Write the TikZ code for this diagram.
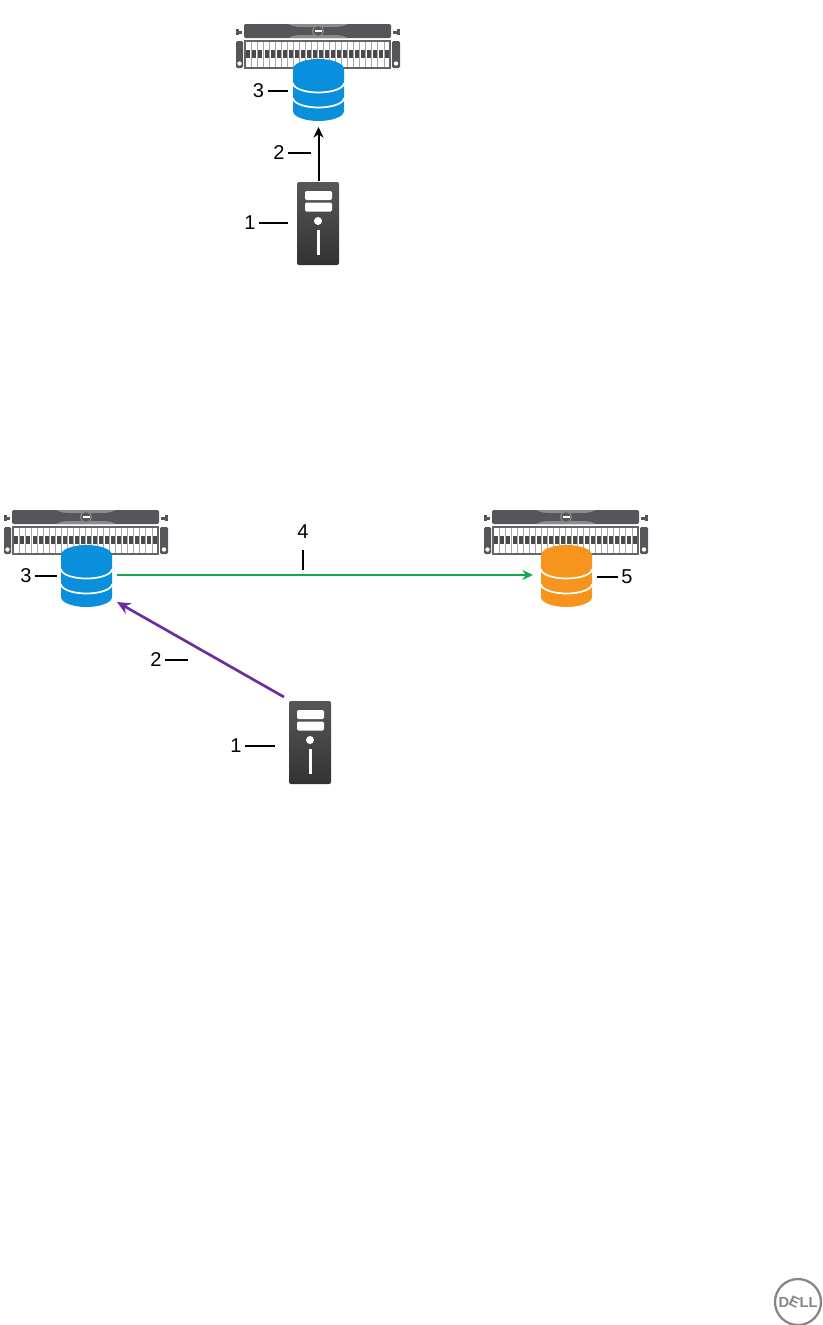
\documentclass[tikz,border=0pt]{standalone}
\usepackage{fontspec}
\setmainfont{Liberation Sans}
\usepackage{graphicx}
\definecolor{blueDisk}{HTML}{0A8FDC}
\definecolor{orangeDisk}{HTML}{F7941D}
\definecolor{bezel}{HTML}{55565A}
\definecolor{bezelLight}{HTML}{8A8B8E}
\definecolor{cellLine}{HTML}{A8A8A8}
\definecolor{cellDark}{HTML}{4A4A4C}
\definecolor{greenLine}{HTML}{12A84B}
\definecolor{purpleLine}{HTML}{6A2C9E}
\definecolor{logoGrey}{HTML}{85868A}
\usetikzlibrary{arrows.meta}
\tikzset{
  x=0.75pt,y=-0.75pt,
  numlabel/.style={font=\fontsize{15}{15}\selectfont,text=black,inner sep=2.5pt},
  leaderline/.style={draw=black,line width=1pt},
  flowarrow/.style={-{Stealth[length=8pt,width=7.5pt]},line width=1.5pt},
}
% disk: name, centre x, top y, colour
\newcommand{\drawdisk}[4]{%
  \node[inner sep=0pt,outer sep=0pt,minimum width=38.25pt,minimum height=46.5pt] (#1) at (#2,#3+31) {};
  \begin{scope}[shift={(#2,#3)}]
    \fill[#4] (-25.5,10) arc[start angle=180,end angle=360,x radius=25.5,y radius=10]
      -- (25.5,52) arc[start angle=0,end angle=180,x radius=25.5,y radius=10] -- cycle;
    \draw[white,line width=1.3pt] (-25.5,24) arc[start angle=180,end angle=0,x radius=25.5,y radius=9.5];
    \draw[white,line width=1.3pt] (-25.5,39) arc[start angle=180,end angle=0,x radius=25.5,y radius=9.5];
  \end{scope}}
% storage array: name, centre x, top y
\newcommand{\drawarray}[3]{%
  \node[inner sep=0pt,outer sep=0pt,minimum width=123pt,minimum height=33pt] (#1) at (#2,#3+22) {};
  \begin{scope}[shift={(#2,#3)}]
    \fill[bezel,rounded corners=1pt] (-74,0) rectangle (73,14);
    \fill[bezelLight] (-30,0) .. controls (-24,3) and (-20,3) .. (-14,3) -- (14,3) .. controls (20,3) and (24,3) .. (30,0) -- cycle;
    \fill[bezelLight] (-30,14) .. controls (-24,11) and (-20,11) .. (-14,11) -- (14,11) .. controls (20,11) and (24,11) .. (30,14) -- cycle;
    \filldraw[fill=bezel,draw=bezelLight,line width=0.9pt] (0,7) circle[radius=5.5];
    \fill[white] (-3.5,6.2) rectangle (3.5,7.8);
    % handles
    \fill[bezel] (-82,5) rectangle (-79,11);
    \fill[bezel] (-79,7) rectangle (-76,9.5);
    \fill[bezel] (79,5) rectangle (82,11);
    \fill[bezel] (75,7) rectangle (79,9.5);
    % ears
    \fill[bezel,rounded corners=1pt] (-82,17) rectangle (-75,44);
    \fill[bezel,rounded corners=1pt] (74,17) rectangle (82,44);
    \fill[white] (-78.5,39.5) circle[radius=2.2];
    \fill[white] (78,39.5) circle[radius=2.2];
    % drive slots
    \fill[white] (-73,17) rectangle (72,44);
    \foreach \k in {0,...,23}{
      \draw[cellLine,line width=0.6pt] ({-73+\k*6.04},17) -- ({-73+\k*6.04},44);
      \fill[cellDark] ({-71.6+\k*6.04},26) rectangle ({-67.6+\k*6.04},34);
    }
    \draw[cellLine!60!black,line width=0.8pt] (-73,17) rectangle (72,44);
  \end{scope}}
% server tower: name, left x, top y
\newcommand{\drawserver}[3]{%
  \node[inner sep=0pt,outer sep=0pt,minimum width=31.5pt,minimum height=62.5pt] (#1) at (#2+21,#3+41.5) {};
  \begin{scope}[shift={(#2,#3)}]
    \shade[top color=black!66,middle color=black!62,bottom color=black!80,rounded corners=1.5pt] (0,0) rectangle (42,83);
    \fill[white,rounded corners=1pt] (8,9) rectangle (35,18);
    \fill[white,rounded corners=1pt] (8,20.5) rectangle (35,29.5);
    \fill[white] (21,39) circle[radius=4];
    \fill[white] (19.5,48) rectangle (22.5,73);
  \end{scope}}
\begin{document}
\begin{tikzpicture}
\useasboundingbox (0,0) rectangle (823,1325);
% --- top scenario
\drawarray{arrA}{318}{24}
\drawdisk{diskA}{318.5}{59}{blueDisk}
\drawserver{srvA}{297}{182}
\draw[flowarrow,black,shorten >=4.5pt,shorten <=0.5pt] (srvA.north -| diskA.south) -- (diskA.south);
\node[numlabel] (la3) at (258.5,91) {3};
\coordinate (la3e) at (288,91);
\draw[leaderline] (la3) -- (la3e);
\node[numlabel] (la2) at (279,153) {2};
\coordinate (la2e) at (311,153);
\draw[leaderline] (la2) -- (la2e);
\node[numlabel] (la1) at (250,223) {1};
\coordinate (la1e) at (288,223);
\draw[leaderline] (la1) -- (la1e);
% --- bottom scenario
\drawarray{arrB}{86}{510}
\drawarray{arrC}{566}{510}
\drawdisk{diskB}{86.5}{545}{blueDisk}
\drawdisk{diskC}{566.5}{545}{orangeDisk}
\drawserver{srvB}{289}{701}
\draw[flowarrow,greenLine,shorten >=6pt,shorten <=3.5pt] (diskB.east |- 0,575) -- (diskC.west |- 0,575);
\coordinate (purpleStart) at (284,697);
\coordinate (purpleEnd) at (117,602);
\draw[flowarrow,purpleLine,line width=2pt,-{Stealth[length=10pt,width=9pt]}] (purpleStart) -- (purpleEnd);
\node[numlabel] (lb3) at (26,576) {3};
\coordinate (lb3e) at (57,576);
\draw[leaderline] (lb3) -- (lb3e);
\node[numlabel] (lb2) at (156,660) {2};
\coordinate (lb2e) at (188,660);
\draw[leaderline] (lb2) -- (lb2e);
\node[numlabel] (lb1) at (236,746) {1};
\coordinate (lb1e) at (275,746);
\draw[leaderline] (lb1) -- (lb1e);
\node[numlabel] (lb4) at (303,532) {4};
\coordinate (lb4e) at (303,570);
\coordinate (lb4s) at (303,550);
\draw[leaderline] (lb4s) -- (lb4e);
\node[numlabel] (lb5) at (627,577) {5};
\coordinate (lb5s) at (597,577);
\draw[leaderline] (lb5) -- (lb5s);
% --- logo
\node[circle,draw=logoGrey,line width=1.7pt,minimum size=34.5pt,inner sep=0pt,
  text=logoGrey,font=\fontsize{11}{11}\selectfont\bfseries] (logo) at (798,1302)
  {D\kern-1pt\rotatebox[origin=c]{-25}{E}\kern-1pt LL};
\end{tikzpicture}
\end{document}
